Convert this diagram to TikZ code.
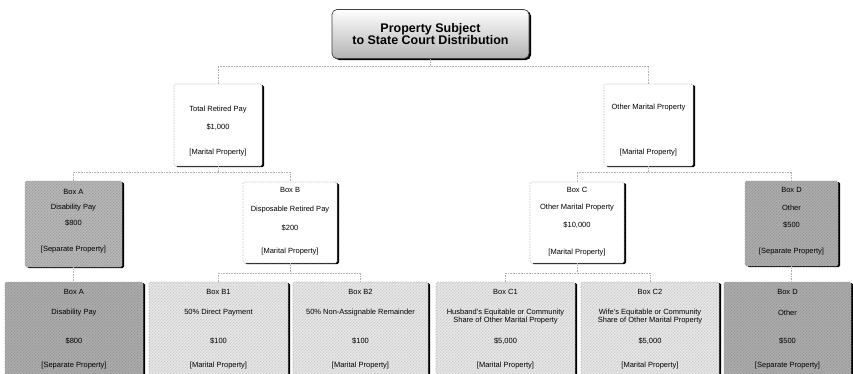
\documentclass[tikz,border=0pt]{standalone}
\usepackage{fontspec}
\setmainfont{Liberation Sans}
\usetikzlibrary{shadows,patterns}
\tikzset{
  boxbase/.style={draw=gray!65, densely dotted, line width=0.6pt, rounded corners=1.5pt,
    inner sep=0pt, drop shadow={shadow xshift=2pt, shadow yshift=-1pt, fill=black, opacity=1}},
  whitebox/.style={boxbase, fill=white},
  lightbox/.style={boxbase, fill=gray!20, postaction={pattern=north east lines, pattern color=gray!50}},
  darkbox/.style={boxbase, fill=gray!58, postaction={pattern=north east lines, pattern color=gray!85}},
  darkerbox/.style={boxbase, fill=gray!66, postaction={pattern=north east lines, pattern color=gray!90}},
  titlebox/.style={draw=black!75, line width=0.7pt, rounded corners=5pt, inner sep=0pt,
    top color=white, middle color=white!92!black, bottom color=gray!60,
    drop shadow={shadow xshift=2pt, shadow yshift=-1.5pt, fill=black, opacity=1},
    font=\bfseries\fontsize{12.5}{12}\selectfont, align=center},
  txt/.style={font=\fontsize{7.5}{8.5}\selectfont, inner sep=0pt, align=center},
  conn/.style={draw=gray!60, densely dotted, line width=0.6pt}
}
\begin{document}
\begin{tikzpicture}[x=1pt,y=-1pt]
\useasboundingbox (0,0) rectangle (853,373);

% title
\node[titlebox, minimum width=197pt, minimum height=49pt] (top) at (430.5,34) {Property Subject\\to State Court Distribution};

% level 1
\node[whitebox, minimum width=88pt, minimum height=82pt] (l1L) at (218,125) {};
\node[whitebox, minimum width=89pt, minimum height=82pt] (l1R) at (648.5,125) {};

% level 2
\node[darkbox, minimum width=97pt, minimum height=86pt] (bA) at (73.5,224) {};
\node[whitebox, minimum width=94pt, minimum height=81pt] (bB) at (290,222.5) {};
\node[whitebox, minimum width=94pt, minimum height=81pt] (bC) at (577,222.5) {};
\node[darkerbox, minimum width=93pt, minimum height=85pt] (bD) at (791.5,223.5) {};

% level 3
\node[darkerbox, minimum width=138pt, minimum height=98pt] (cA) at (74,331) {};
\node[lightbox, minimum width=139pt, minimum height=98pt] (cB1) at (218.5,331) {};
\node[lightbox, minimum width=135pt, minimum height=98pt] (cB2) at (360.5,331) {};
\node[lightbox, minimum width=139pt, minimum height=98pt] (cC1) at (505.5,331) {};
\node[lightbox, minimum width=138pt, minimum height=98pt] (cC2) at (650,331) {};
\node[darkerbox, minimum width=127pt, minimum height=98pt] (cD) at (787.5,331) {};

% connectors
\coordinate (j0) at (top.south |- 0,66);
\draw[conn] (top.south) -- (j0);
\draw[conn] (l1L.north) -- (l1L.north |- j0) -- (l1R.north |- j0) -- (l1R.north);

\coordinate (j1L) at (l1L.south |- 0,172);
\draw[conn] (l1L.south) -- (j1L);
\draw[conn] (bA.north) -- (bA.north |- j1L) -- (bB.north |- j1L) -- (bB.north);

\coordinate (j1R) at (l1R.south |- 0,172);
\draw[conn] (l1R.south) -- (j1R);
\draw[conn] (bC.north) -- (bC.north |- j1R) -- (bD.north |- j1R) -- (bD.north);

\draw[conn] (bA.south) -- (bA.south |- cA.north);
\coordinate (j2B) at (bB.south |- 0,273);
\draw[conn] (bB.south) -- (j2B);
\draw[conn] (cB1.north) -- (cB1.north |- j2B) -- (cB2.north |- j2B) -- (cB2.north);
\coordinate (j2C) at (bC.south |- 0,273);
\draw[conn] (bC.south) -- (j2C);
\draw[conn] (cC1.north) -- (cC1.north |- j2C) -- (cC2.north |- j2C) -- (cC2.north);
\draw[conn] (bD.south) -- (bD.south |- cD.north);

% level 1 texts
\node[txt] at (l1L.center |- 0,110) {Total Retired Pay};
\node[txt] at (l1L.center |- 0,127) {\$1,000};
\node[txt] at (l1L.center |- 0,153) {[Marital Property]};
\node[txt] at (l1R.center |- 0,108) {Other Marital Property};
\node[txt] at (l1R.center |- 0,153) {[Marital Property]};

% level 2 texts
\node[txt] at (bA.center |- 0,192) {Box A};
\node[txt] at (bA.center |- 0,208) {Disability Pay};
\node[txt] at (bA.center |- 0,223) {\$800};
\node[txt] at (bA.center |- 0,250) {[Separate Property]};

\node[txt] at (bB.center |- 0,190) {Box B};
\node[txt] at (bB.center |- 0,210) {Disposable Retired Pay};
\node[txt] at (bB.center |- 0,228) {\$200};
\node[txt] at (bB.center |- 0,252) {[Marital Property]};

\node[txt] at (bC.center |- 0,190) {Box C};
\node[txt] at (bC.center |- 0,208) {Other Marital Property};
\node[txt] at (bC.center |- 0,225) {\$10,000};
\node[txt] at (bC.center |- 0,253) {[Marital Property]};

\node[txt] at (bD.center |- 0,190) {Box D};
\node[txt] at (bD.center |- 0,208) {Other};
\node[txt] at (bD.center |- 0,225) {\$500};
\node[txt] at (bD.center |- 0,252) {[Separate Property]};

% level 3 texts
\node[txt] at (cA.center |- 0,292) {Box A};
\node[txt] at (cA.center |- 0,313) {Disability Pay};
\node[txt] at (cA.center |- 0,341) {\$800};
\node[txt] at (cA.center |- 0,366) {[Separate Property]};

\node[txt] at (cB1.center |- 0,292) {Box B1};
\node[txt] at (cB1.center |- 0,313) {50\% Direct Payment};
\node[txt] at (cB1.center |- 0,341) {\$100};
\node[txt] at (cB1.center |- 0,366) {[Marital Property]};

\node[txt] at (cB2.center |- 0,292) {Box B2};
\node[txt] at (cB2.center |- 0,313) {50\% Non-Assignable Remainder};
\node[txt] at (cB2.center |- 0,341) {\$100};
\node[txt] at (cB2.center |- 0,366) {[Marital Property]};

\node[txt] at (cC1.center |- 0,292) {Box C1};
\node[txt] at (cC1.center |- 0,316.5) {Husband's Equitable or Community\\Share of Other Marital Property};
\node[txt] at (cC1.center |- 0,341) {\$5,000};
\node[txt] at (cC1.center |- 0,366) {[Marital Property]};

\node[txt] at (cC2.center |- 0,292) {Box C2};
\node[txt] at (cC2.center |- 0,316.5) {Wife's Equitable or Community\\Share of Other Marital Property};
\node[txt] at (cC2.center |- 0,341) {\$5,000};
\node[txt] at (cC2.center |- 0,366) {[Marital Property]};

\node[txt] at (cD.center |- 0,292) {Box D};
\node[txt] at (cD.center |- 0,313) {Other};
\node[txt] at (cD.center |- 0,341) {\$500};
\node[txt] at (cD.center |- 0,366) {[Separate Property]};
\end{tikzpicture}
\end{document}
